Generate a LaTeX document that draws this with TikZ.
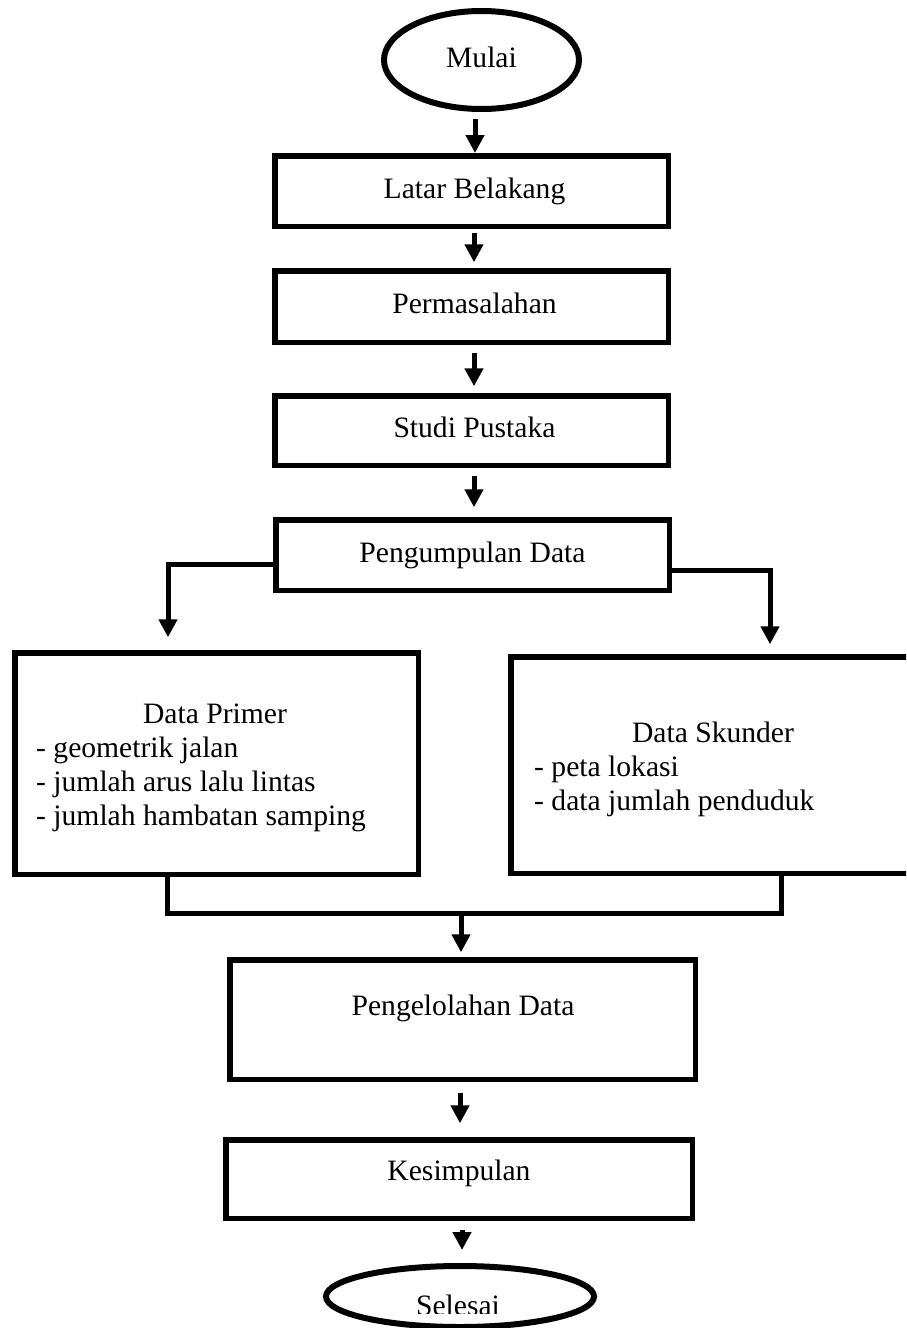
\documentclass[tikz,border=0pt]{standalone}
\usepackage{fontspec}
\setmainfont{Liberation Serif}
\usetikzlibrary{arrows.meta,shapes.geometric}
\newcommand{\diafont}{\fontsize{29.6}{34}\selectfont}
\begin{document}
\begin{tikzpicture}[x=1pt,y=-1pt,
  box/.style={draw, line width=5.5pt, inner sep=0pt, font=\diafont, text height=20pt, text depth=6pt},
  oval/.style={draw, ellipse, line width=6pt, inner sep=0pt, font=\diafont, text height=20pt, text depth=6pt},
  arr/.style={line width=5pt, -{Triangle[width=18pt,length=18pt]}},
  conn/.style={line width=5pt},
  txt/.style={inner sep=0pt, font=\diafont}]
\clip (0,0) rectangle (906,1328);
\fill[white] (0,0) rectangle (906,1328);

% nodes
\node[oval, minimum width=195pt, minimum height=98pt] (mulai) at (481.5,60) {Mulai};
\node[box, minimum width=393.5pt, minimum height=70.5pt] (lb) at (471.5,191) {\hspace*{6pt}Latar Belakang};
\node[box, minimum width=393.5pt, minimum height=71.5pt] (perm) at (471.5,306.5) {\hspace*{6pt}Permasalahan};
\node[box, minimum width=393.5pt, minimum height=69.5pt] (studi) at (471.5,430.5) {\hspace*{6pt}Studi Pustaka};
\node[box, minimum width=393.5pt, minimum height=70.5pt] (kump) at (472.5,555) {Pengumpulan Data};
\node[box, minimum width=403.5pt, minimum height=221.5pt] (primer) at (216.5,763.5) {};
\node[box, minimum width=406.5pt, minimum height=216.5pt] (skunder) at (714,765) {};
\node[box, minimum width=465.5pt, minimum height=119.5pt] (olah) at (462.5,1019.5) {};
\node[box, minimum width=466.5pt, minimum height=78.5pt] (simpul) at (459,1179) {};
\node[oval, minimum width=268pt, minimum height=61pt] (selesai) at (460,1296.5) {};

% texts
\node[txt, anchor=base] (tprimer) at (215,723.5) {Data Primer};
\node[txt, anchor=base west] (tp1) at (36,757.5) {- geometrik jalan};
\node[txt, anchor=base west] (tp2) at (36,791.5) {- jumlah arus lalu lintas};
\node[txt, anchor=base west] (tp3) at (36,825.5) {- jumlah hambatan samping};
\node[txt, anchor=base] (tskunder) at (713,742) {Data Skunder};
\node[txt, anchor=base west] (ts1) at (534,776) {- peta lokasi};
\node[txt, anchor=base west] (ts2) at (534,810) {- data jumlah penduduk};
\node[txt, anchor=base] (tolah) at (463,1015) {Pengelolahan Data};
\node[txt, anchor=base] (tsimpul) at (459,1180) {Kesimpulan};
\begin{scope}
\clip (0,0) rectangle (906,1313);
\node[txt, anchor=base] (tselesai) at (458,1315) {Selesai};
\end{scope}

% connectors
\draw[arr] ([xshift=-6.5pt,yshift=-7pt]mulai.south) -- ([xshift=3.5pt]lb.north);
\draw[arr] ([xshift=2.5pt,yshift=-3.75pt]lb.south) -- ([xshift=2.5pt,yshift=5.75pt]perm.north);
\draw[arr] ([xshift=2.5pt,yshift=-7.75pt]perm.south) -- ([xshift=2.5pt,yshift=6.75pt]studi.north);
\draw[arr] ([xshift=2.5pt,yshift=-7.75pt]studi.south) -- ([xshift=1.5pt,yshift=9.75pt]kump.north);
\draw[arr] ([yshift=-9pt]kump.west) -| ([xshift=-48.5pt,yshift=12.75pt]primer.north);
\draw[arr] ([yshift=-15pt]kump.east) -| ([xshift=56pt,yshift=9.75pt]skunder.north);
\coordinate (pb) at ([xshift=-49.5pt]primer.south);
\coordinate (sb) at ([xshift=67pt]skunder.south);
\coordinate (join) at (461,913);
\draw[conn] (pb) |- (join) -| (sb);
\draw[arr] (join) -- ([xshift=-1.5pt,yshift=4.75pt]olah.north);
\draw[arr] ([xshift=-2.5pt,yshift=-10.75pt]olah.south) -- ([xshift=1pt,yshift=13.75pt]simpul.north);
\draw[arr] ([xshift=3pt,yshift=-8.75pt]simpul.south) -- ([xshift=2pt,yshift=13pt]selesai.north);
\end{tikzpicture}
\end{document}
